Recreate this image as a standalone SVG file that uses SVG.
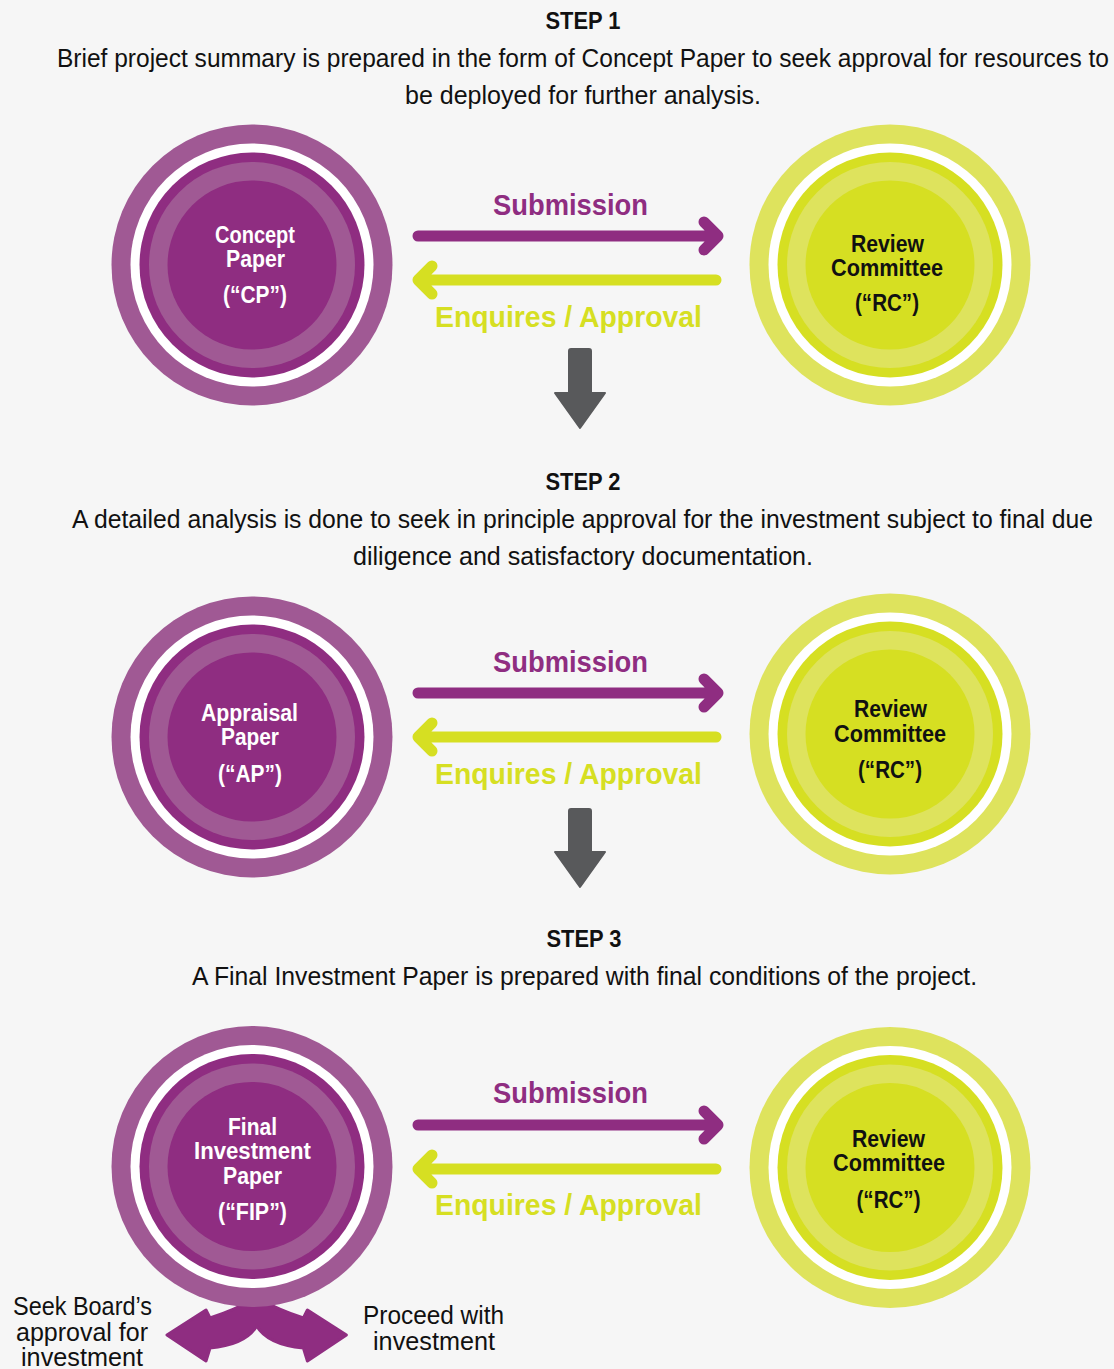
<svg xmlns="http://www.w3.org/2000/svg" width="1114" height="1369" viewBox="0 0 1114 1369">
  <defs>
    <style>
      .bg { fill: #f6f6f6; }
      .head { font-family: "Liberation Sans", Arial, sans-serif; font-weight: bold; font-size: 23px; fill: #111; text-anchor: middle; }
      .para { font-family: "Liberation Sans", Arial, sans-serif; font-size: 25px; fill: #111; text-anchor: middle; }
      .lbl-w { font-family: "Liberation Sans", Arial, sans-serif; font-weight: bold; font-size: 23px; fill: #ffffff; text-anchor: middle; }
      .lbl-k { font-family: "Liberation Sans", Arial, sans-serif; font-weight: bold; font-size: 23px; fill: #111; text-anchor: middle; }
      .sub { font-family: "Liberation Sans", Arial, sans-serif; font-weight: bold; font-size: 30px; fill: #8f2d81; text-anchor: middle; }
      .enq { font-family: "Liberation Sans", Arial, sans-serif; font-weight: bold; font-size: 30px; fill: #d6df22; text-anchor: middle; }
      .side { font-family: "Liberation Sans", Arial, sans-serif; font-size: 25px; fill: #111; text-anchor: middle; }
      .p-light { fill: #a05994; }
      .p-dark { fill: #8f2d81; }
      .y-light { fill: #dee35d; }
      .y-dark { fill: #d6df22; }
      .gap { fill: #ffffff; }
      .fwd { fill: none; stroke: #8f2d81; stroke-width: 11; stroke-linecap: round; stroke-linejoin: round; }
      .back { fill: none; stroke: #d6df22; stroke-width: 11; stroke-linecap: round; stroke-linejoin: round; }
      .down { fill: #58595b; stroke: #58595b; stroke-width: 2; stroke-linejoin: round; }
      .split { fill: #8f2d81; stroke: #8f2d81; stroke-width: 3; stroke-linejoin: round; }
    </style>
    <!-- concentric ring badges -->
    <g id="ringPurple">
      <circle r="140.5" class="p-light"/>
      <circle r="121.5" class="gap"/>
      <circle r="112.5" class="p-dark"/>
      <circle r="103" class="p-light"/>
      <circle r="84.5" class="p-dark"/>
    </g>
    <g id="ringYellow">
      <circle r="140.5" class="y-light"/>
      <circle r="121.5" class="gap"/>
      <circle r="112.5" class="y-dark"/>
      <circle r="103" class="y-light"/>
      <circle r="84.5" class="y-dark"/>
    </g>
  </defs>

  <rect class="bg" x="0" y="0" width="1114" height="1369"/>

  <!-- step headings -->
  <g id="step1-text">
    <text class="head" x="583" y="29" textLength="75" lengthAdjust="spacingAndGlyphs">STEP 1</text>
    <text class="para" x="583" y="67" textLength="1052" lengthAdjust="spacingAndGlyphs">Brief project summary is prepared in the form of Concept Paper to seek approval for resources to</text>
    <text class="para" x="583" y="104" textLength="356" lengthAdjust="spacingAndGlyphs">be deployed for further analysis.</text>
  </g>
  <g id="step2-text">
    <text class="head" x="583" y="490" textLength="75" lengthAdjust="spacingAndGlyphs">STEP 2</text>
    <text class="para" x="582.5" y="528" textLength="1021" lengthAdjust="spacingAndGlyphs">A detailed analysis is done to seek in principle approval for the investment subject to final due</text>
    <text class="para" x="583" y="565" textLength="460" lengthAdjust="spacingAndGlyphs">diligence and satisfactory documentation.</text>
  </g>
  <g id="step3-text">
    <text class="head" x="584" y="947" textLength="75" lengthAdjust="spacingAndGlyphs">STEP 3</text>
    <text class="para" x="584.5" y="985" textLength="785" lengthAdjust="spacingAndGlyphs">A Final Investment Paper is prepared with final conditions of the project.</text>
  </g>

  <!-- connectors -->
  <g id="connectors">
    <!-- step 1 -->
    <path class="fwd" d="M418 236 H718 M704 222 L718 236 L704 250"/>
    <path class="back" d="M716 280 H418 M432 266 L418 280 L432 294"/>
    <text class="sub" x="570.5" y="215" textLength="155" lengthAdjust="spacingAndGlyphs">Submission</text>
    <text class="enq" x="568.5" y="327" textLength="267" lengthAdjust="spacingAndGlyphs">Enquires / Approval</text>
    <path class="down" d="M571 349 H589 Q591 349 591 351 V393 H605 L580 428 L555 393 H569 V351 Q569 349 571 349 Z"/>

    <!-- step 2 -->
    <path class="fwd" d="M418 693 H718 M704 679 L718 693 L704 707"/>
    <path class="back" d="M716 737 H418 M432 723 L418 737 L432 751"/>
    <text class="sub" x="570.5" y="672" textLength="155" lengthAdjust="spacingAndGlyphs">Submission</text>
    <text class="enq" x="568.5" y="784" textLength="267" lengthAdjust="spacingAndGlyphs">Enquires / Approval</text>
    <path class="down" d="M571 809 H589 Q591 809 591 811 V852 H605 L580 887 L555 852 H569 V811 Q569 809 571 809 Z"/>

    <!-- step 3 -->
    <path class="fwd" d="M418 1125 H718 M704 1111 L718 1125 L704 1139"/>
    <path class="back" d="M716 1169 H418 M432 1155 L418 1169 L432 1183"/>
    <text class="sub" x="570.5" y="1103" textLength="155" lengthAdjust="spacingAndGlyphs">Submission</text>
    <text class="enq" x="568.5" y="1215" textLength="267" lengthAdjust="spacingAndGlyphs">Enquires / Approval</text>

    <!-- two-way split under the final paper -->
    <path class="split" d="M256.7 1298 Q234 1310 210 1318 L206 1310 L167 1335 L206 1361 L210 1348 C232 1346 249 1339 256.7 1326 C264.4 1339 281.4 1346 303.4 1348 L307.4 1361 L346.4 1335 L307.4 1310 L303.4 1318 Q279.4 1310 256.7 1298 Z"/>
  </g>

  <!-- step 1 nodes -->
  <g id="node-cp">
    <use href="#ringPurple" x="252" y="265"/>
    <text class="lbl-w" x="255" y="243" textLength="80" lengthAdjust="spacingAndGlyphs">Concept</text>
    <text class="lbl-w" x="255.5" y="267" textLength="59" lengthAdjust="spacingAndGlyphs">Paper</text>
    <text class="lbl-w" x="255" y="303" textLength="64" lengthAdjust="spacingAndGlyphs">(“CP”)</text>
  </g>
  <g id="node-rc1">
    <use href="#ringYellow" x="890" y="265"/>
    <text class="lbl-k" x="887.5" y="252" textLength="73" lengthAdjust="spacingAndGlyphs">Review</text>
    <text class="lbl-k" x="887" y="276" textLength="112" lengthAdjust="spacingAndGlyphs">Committee</text>
    <text class="lbl-k" x="887" y="311" textLength="64" lengthAdjust="spacingAndGlyphs">(“RC”)</text>
  </g>

  <!-- step 2 nodes -->
  <g id="node-ap">
    <use href="#ringPurple" x="252" y="737"/>
    <text class="lbl-w" x="249.5" y="721" textLength="97" lengthAdjust="spacingAndGlyphs">Appraisal</text>
    <text class="lbl-w" x="250" y="745" textLength="58" lengthAdjust="spacingAndGlyphs">Paper</text>
    <text class="lbl-w" x="250" y="782" textLength="64" lengthAdjust="spacingAndGlyphs">(“AP”)</text>
  </g>
  <g id="node-rc2">
    <use href="#ringYellow" x="890" y="734"/>
    <text class="lbl-k" x="890.5" y="717" textLength="73" lengthAdjust="spacingAndGlyphs">Review</text>
    <text class="lbl-k" x="890" y="742" textLength="112" lengthAdjust="spacingAndGlyphs">Committee</text>
    <text class="lbl-k" x="890" y="778" textLength="64" lengthAdjust="spacingAndGlyphs">(“RC”)</text>
  </g>

  <!-- step 3 nodes -->
  <g id="node-fip">
    <use href="#ringPurple" x="252" y="1166.5"/>
    <text class="lbl-w" x="252.5" y="1135" textLength="49" lengthAdjust="spacingAndGlyphs">Final</text>
    <text class="lbl-w" x="252.5" y="1159" textLength="117" lengthAdjust="spacingAndGlyphs">Investment</text>
    <text class="lbl-w" x="252.5" y="1184" textLength="59" lengthAdjust="spacingAndGlyphs">Paper</text>
    <text class="lbl-w" x="252.5" y="1220" textLength="69" lengthAdjust="spacingAndGlyphs">(“FIP”)</text>
  </g>
  <g id="node-rc3">
    <use href="#ringYellow" x="890" y="1167.5"/>
    <text class="lbl-k" x="888.5" y="1147" textLength="73" lengthAdjust="spacingAndGlyphs">Review</text>
    <text class="lbl-k" x="889" y="1171" textLength="112" lengthAdjust="spacingAndGlyphs">Committee</text>
    <text class="lbl-k" x="888.5" y="1208" textLength="64" lengthAdjust="spacingAndGlyphs">(“RC”)</text>
  </g>

  <!-- outcomes -->
  <g id="outcome-board">
    <text class="side" x="82.5" y="1315" textLength="139" lengthAdjust="spacingAndGlyphs">Seek Board’s</text>
    <text class="side" x="82" y="1341" textLength="132" lengthAdjust="spacingAndGlyphs">approval for</text>
    <text class="side" x="82" y="1366" textLength="122" lengthAdjust="spacingAndGlyphs">investment</text>
  </g>
  <g id="outcome-proceed">
    <text class="side" x="433.5" y="1324" textLength="141" lengthAdjust="spacingAndGlyphs">Proceed with</text>
    <text class="side" x="434" y="1350" textLength="122" lengthAdjust="spacingAndGlyphs">investment</text>
  </g>
</svg>
